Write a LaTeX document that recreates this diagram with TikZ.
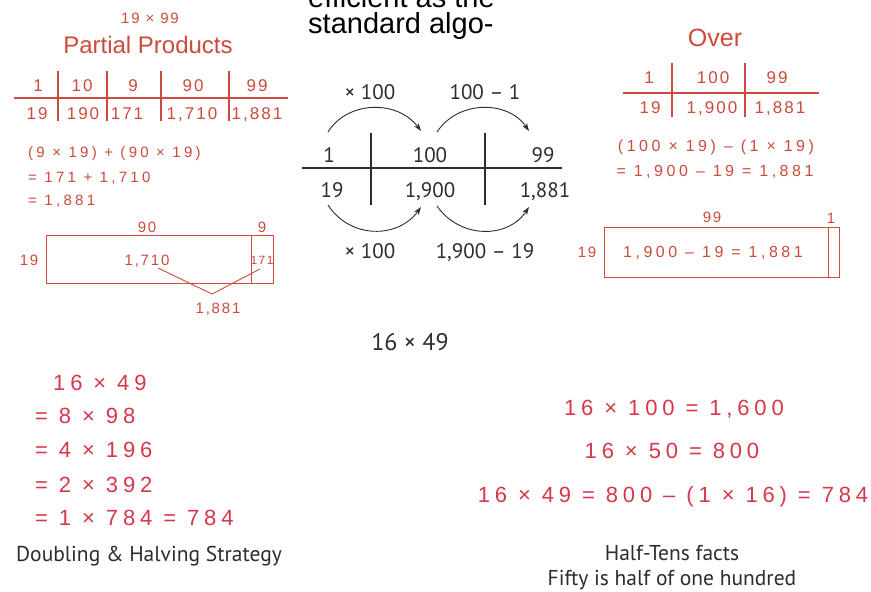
\documentclass[tikz,border=0pt]{standalone}
\usepackage{fontspec}
\setmainfont{Liberation Sans}
\newfontfamily\hand[LetterSpace=12]{Liberation Sans}
\newfontfamily\handx[LetterSpace=22]{Liberation Sans}
\newfontfamily\handw{Liberation Sans}
\newfontfamily\myr{PT Sans}
\usetikzlibrary{arrows.meta}
\definecolor{tred}{RGB}{205,75,60}
\definecolor{bred}{RGB}{215,55,75}
\definecolor{dgray}{RGB}{45,45,45}
\newcommand\fs[1]{\fontsize{#1}{#1}\selectfont}
\begin{document}
\begin{tikzpicture}[x=1pt,y=-1pt,
  ht/.style={inner sep=0,anchor=base,text=tred,font=\hand\fs{#1}},
  hx/.style={inner sep=0,anchor=base,text=tred,font=\handx\fs{#1}},
  htw/.style={inner sep=0,anchor=base,text=tred,font=\handw\fs{#1}},
  hb/.style={inner sep=0,anchor=base,text=bred,font=\handx\fs{#1}},
  dk/.style={inner sep=0,anchor=base,text=dgray,font=\myr\fs{#1}},
  tline/.style={draw=tred,line width=1.1pt},
  kline/.style={draw=dgray,line width=1.2pt},
  arc/.style={draw=dgray,line width=0.9pt,-{Stealth[length=8pt,width=5.5pt]}}]
\useasboundingbox (0,0) rectangle (871,592);
\clip (0,0) rectangle (871,592);
\fill[white] (0,0) rectangle (871,592);

% ---- top cut-off text
\node[inner sep=0,anchor=base west,font=\fs{29}] (eff) at (308,7) {efficient as the};
\node[inner sep=0,anchor=base west,font=\fs{29}] (std) at (308,33) {standard algo-};

% ---- left: partial products
\node[ht=15] (t1) at (150,23) {19 × 99};
\node[htw=24] (pp) at (148,53) {Partial Products};
\draw[tline] (14,98) -- (288,98);
\foreach \x in {58,107,161,229} \draw[tline] (\x,71) -- (\x,121);
\node[ht=17] (a1) at (38,91) {1};
\node[ht=17] (a2) at (82,91) {10};
\node[ht=17] (a3) at (133,91) {9};
\node[ht=17] (a4) at (193,91) {90};
\node[ht=17] (a5) at (257,91) {99};
\node[ht=17] (b1) at (37,119) {19};
\node[ht=17] (b2) at (83,119) {190};
\node[ht=17] (b3) at (127,119) {171};
\node[ht=17] (b4) at (192,119) {1,710};
\node[ht=17] (b5) at (257,119) {1,881};
\node[hx=15,anchor=base west] (e1) at (28,157) {(9 × 19) + (90 × 19)};
\node[hx=15,anchor=base west] (e2) at (28,182) {= 171 + 1,710};
\node[hx=15,anchor=base west] (e3) at (28,205) {= 1,881};
\node[ht=15] (l90) at (147,232) {90};
\node[ht=15] (l9) at (262,232) {9};
\draw[tline,line width=0.9pt] (46,235) rectangle (273,283);
\draw[tline,line width=0.9pt] (251,235) -- (251,283);
\node[ht=15] (l19) at (29,265) {19};
\node[ht=15] (r1710) at (147,265) {1,710};
\node[ht=12] (r171) at (262,264) {171};
\node[ht=15] (r1881) at (218,313) {1,881};
\coordinate (c1) at (158,268);
\coordinate (c2) at (212,294);
\coordinate (c3) at (260,269);
\draw[tline,line width=0.9pt] (c1) -- (c2) -- (c3);

% ---- centre: over strategy
\node[dk=21] (x100a) at (370,99) {× 100};
\node[dk=21] (m1) at (485,99) {100 – 1};
\node[dk=21] (n1) at (329,162) {1};
\node[dk=21] (n100) at (430,162) {100};
\node[dk=21] (n99) at (543,162) {99};
\node[dk=21] (n19) at (332,197) {19};
\node[dk=21] (n1900) at (430,197) {1,900};
\node[dk=21] (n1881) at (545,197) {1,881};
\node[dk=21] (x100b) at (370,258) {× 100};
\node[dk=21] (m19) at (485,258) {1,900 – 19};
\draw[kline] (302,168) -- (562,168);
\draw[kline] (371,133) -- (371,205);
\draw[kline] (485,133) -- (485,205);
\coordinate (u1) at (328,132);
\coordinate (u2) at (421,131);
\coordinate (u3) at (437,132);
\coordinate (u4) at (529,131);
\coordinate (d1) at (328,205);
\coordinate (d2) at (421,207);
\coordinate (d3) at (437,206);
\coordinate (d4) at (529,207);
\draw[arc] (u1) .. controls (348,100) and (398,100) .. (u2);
\draw[arc] (u3) .. controls (458,100) and (508,100) .. (u4);
\draw[arc] (d1) .. controls (350,239) and (398,239) .. (d2);
\draw[arc] (d3) .. controls (460,239) and (508,239) .. (d4);

% ---- right: over
\node[htw=25] (over) at (715,46) {Over};
\draw[tline] (623,93) -- (819,93);
\draw[tline] (672,63) -- (672,117);
\draw[tline] (745,63) -- (745,117);
\node[ht=17] (o1) at (649,83) {1};
\node[ht=17] (o2) at (713,83) {100};
\node[ht=17] (o3) at (777,83) {99};
\node[ht=17] (p1) at (650,113) {19};
\node[ht=17] (p2) at (712,113) {1,900};
\node[ht=17] (p3) at (780,113) {1,881};
\node[hx=16] (f1) at (716,151) {(100 × 19) – (1 × 19)};
\node[hx=16] (f2) at (715,176) {= 1,900 – 19 = 1,881};
\node[ht=15] (r99) at (712,222) {99};
\node[ht=15] (r1) at (831,223) {1};
\draw[tline,line width=0.9pt] (604,227) rectangle (839,277);
\draw[tline,line width=0.9pt] (828,227) -- (828,277);
\node[ht=15] (r19) at (587,257) {19};
\node[hx=16] (rin) at (713,257) {1,900 – 19 = 1,881};

% ---- bottom
\node[dk=24] (q) at (410,350) {16 × 49};
\node[hb=22,anchor=base west] (h1) at (53,390) {16 × 49};
\node[hb=22,anchor=base west] (h2) at (35,423) {= 8 × 98};
\node[hb=22,anchor=base west] (h3) at (35,457) {= 4 × 196};
\node[hb=22,anchor=base west] (h4) at (35,492) {= 2 × 392};
\node[hb=22,anchor=base west] (h5) at (35,525) {= 1 × 784 = 784};
\node[dk=21.5] (dh) at (149,561) {Doubling \& Halving Strategy};
\node[hb=22] (g1) at (674,415) {16 × 100 = 1,600};
\node[hb=22] (g2) at (672,458) {16 × 50 = 800};
\node[hb=22] (g3) at (673,502) {16 × 49 = 800 – (1 × 16) = 784};
\node[dk=21.5] (ht1) at (672,560) {Half-Tens facts};
\node[dk=21.5] (ht2) at (672,585) {Fifty is half of one hundred};
\end{tikzpicture}
\end{document}
